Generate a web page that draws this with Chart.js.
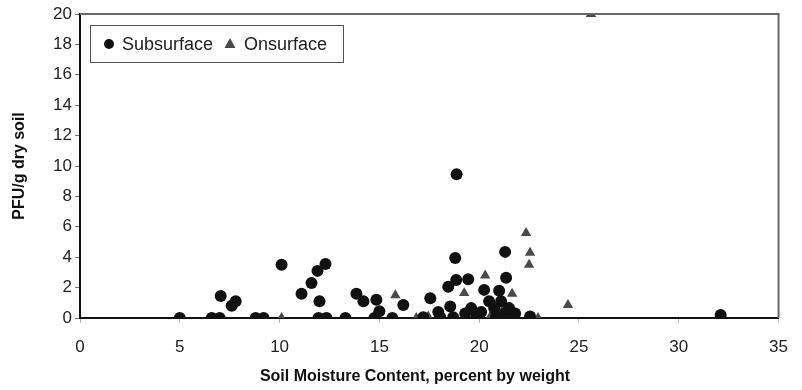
<!DOCTYPE html>
<html>
<head>
<meta charset="utf-8">
<script src="https://cdn.jsdelivr.net/npm/chart.js@4.4.0/dist/chart.umd.min.js"></script>
<style>
  html, body { margin: 0; padding: 0; background: #fff; }
  #wrap { width: 802px; height: 390px; }
</style>
</head>
<body>
<div id="wrap"><canvas id="soilChart" width="802" height="390"></canvas></div>
<script>
// values
const subsurfaceX = [5, 6.6, 7.0, 7.05, 7.6, 7.8, 8.8, 9.2, 10.1, 11.1, 11.6, 11.9, 12.3, 12.0, 11.95, 12.35,
  13.3, 13.85, 14.2, 14.85, 14.75, 15.0, 15.65, 16.2, 17.55, 17.2, 17.95, 18.05, 18.45, 18.55, 18.7, 18.85,
  18.8, 18.87, 19.45, 19.6, 19.85, 19.3, 20.1, 20.25, 20.5, 20.75, 20.85, 21.0, 21.1, 21.3, 21.35, 21.5,
  21.3, 21.8, 22.55, 32.1];
const subsurfaceY = [0, 0, 0, 1.45, 0.8, 1.1, 0, 0, 3.5, 1.6, 2.3, 3.1, 3.55, 1.1, 0, 0,
  0, 1.6, 1.1, 1.2, 0, 0.45, 0, 0.85, 1.3, 0.05, 0.4, 0.05, 2.05, 0.75, 0.05, 2.5,
  3.95, 9.45, 2.55, 0.65, 0.05, 0.3, 0.4, 1.85, 1.1, 0.65, 0.1, 1.8, 1.1, 4.35, 2.65, 0.65,
  0.3, 0.3, 0.1, 0.2];

const onsurfaceX = [10.1, 15.8, 16.85, 17.45, 19.25, 20.3, 20.6, 21.2, 21.65, 22.35, 22.55, 22.5, 22.95, 24.45, 25.6];
const onsurfaceY = [0, 1.5, 0, 0.1, 1.65, 2.8, 0.2, 0.6, 1.6, 5.6, 4.3, 3.5, 0, 0.85, 20];

const seriesNames = ["Subsurface", "Onsurface"];
const xTitle = "Soil Moisture Content, percent by weight";
const yTitle = "PFU/g dry soil";

function toPoints(xs, ys) {
  return xs.map((x, i) => ({ x: x, y: ys[i] }));
}

const FONT = "'Liberation Sans', Arial, sans-serif";

// frame on top/right, boxed legend inside the plot, x title (sits left of centre in the scan)
const framePlugin = {
  id: 'frameAndLegend',
  afterDraw: (chart) => {
    const ctx = chart.ctx;
    const { top, left, right, bottom } = chart.chartArea;
    ctx.save();
    ctx.strokeStyle = "#6a6a6a";
    ctx.lineWidth = 2;
    ctx.beginPath();
    ctx.moveTo(left, top);
    ctx.lineTo(right, top);
    ctx.lineTo(right, bottom);
    ctx.stroke();

    // legend box
    ctx.strokeStyle = "#555";
    ctx.lineWidth = 1;
    ctx.strokeRect(90.5, 25.5, 253, 37);
    ctx.font = "18px " + FONT;
    ctx.textBaseline = "middle";
    const ds = chart.data.datasets;
    ctx.fillStyle = ds[0].backgroundColor;
    ctx.beginPath();
    ctx.arc(109, 44, 5, 0, Math.PI * 2);
    ctx.fill();
    ctx.fillStyle = "#222";
    ctx.fillText(ds[0].label, 122, 45);
    ctx.fillStyle = ds[1].backgroundColor;
    ctx.beginPath();
    ctx.moveTo(230, 38);
    ctx.lineTo(235.5, 48);
    ctx.lineTo(224.5, 48);
    ctx.closePath();
    ctx.fill();
    ctx.fillStyle = "#222";
    ctx.fillText(ds[1].label, 244, 45);

    // x axis title
    ctx.font = "bold 16px " + FONT;
    ctx.fillStyle = "#111";
    ctx.textAlign = "center";
    ctx.fillText(xTitle, 415, 377);
    ctx.restore();
  }
};

const ctx = document.getElementById("soilChart").getContext("2d");

new Chart(ctx, {
  type: "scatter",
  data: {
    datasets: [{
      label: seriesNames[0],
      data: toPoints(subsurfaceX, subsurfaceY),
      pointStyle: "circle",
      pointRadius: 6,
      backgroundColor: "#111",
      borderColor: "#111",
      borderWidth: 0
    }, {
      label: seriesNames[1],
      data: toPoints(onsurfaceX, onsurfaceY),
      pointStyle: "triangle",
      pointRadius: 6,
      backgroundColor: "#4a4a4a",
      borderColor: "#4a4a4a",
      borderWidth: 0
    }]
  },
  options: {
    responsive: false,
    animation: false,
    layout: { padding: { top: 14, right: 14, left: 0, bottom: 0 } },
    plugins: {
      legend: { display: false },
      tooltip: { enabled: false }
    },
    scales: {
      x: {
        type: "linear",
        min: 0,
        max: 35,
        afterFit: (scale) => { scale.height = 72; },
        ticks: {
          stepSize: 5,
          padding: 14,
          color: "#222",
          font: { family: FONT, size: 17 }
        },
        grid: {
          display: true,
          drawOnChartArea: false,
          drawTicks: true,
          tickLength: 5,
          color: "#bbb"
        },
        border: { display: true, color: "#111", width: 2 },
        title: { display: false }
      },
      y: {
        min: 0,
        max: 20,
        afterFit: (scale) => { scale.width = 80; },
        ticks: {
          stepSize: 2,
          padding: 3,
          color: "#222",
          font: { family: FONT, size: 17 }
        },
        grid: {
          display: true,
          drawOnChartArea: false,
          drawTicks: true,
          tickLength: 5,
          color: "#777"
        },
        border: { display: true, color: "#111", width: 2 },
        title: {
          display: true,
          text: yTitle,
          color: "#111",
          font: { family: FONT, size: 16, weight: "bold" },
          padding: { top: 10, bottom: 0 }
        }
      }
    }
  },
  plugins: [framePlugin]
});
</script>
</body>
</html>
